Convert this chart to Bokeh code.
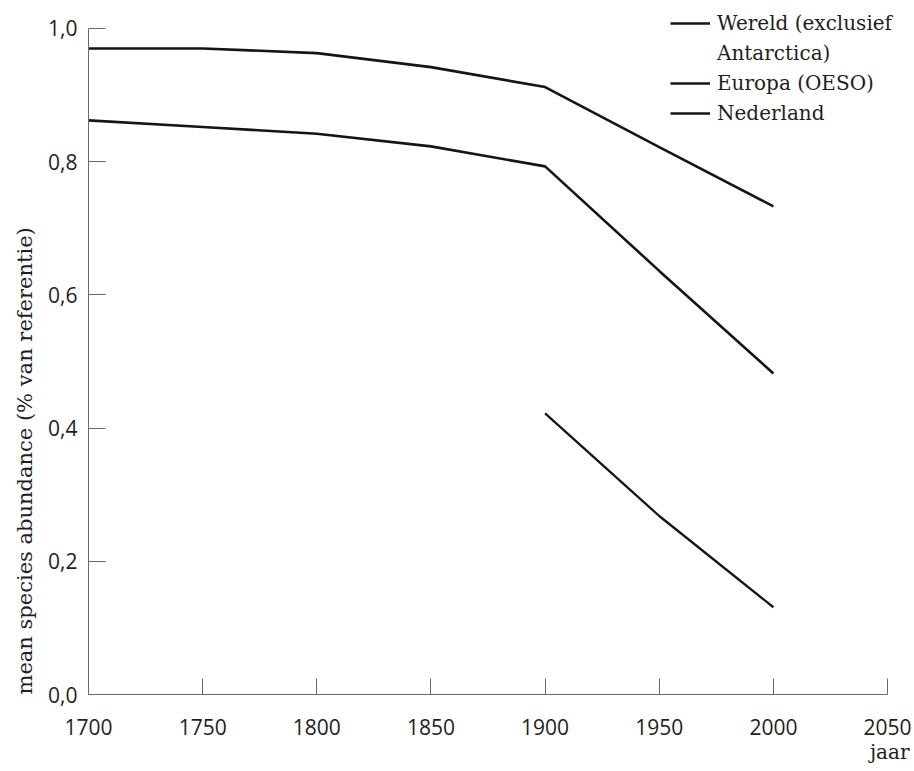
from bokeh.plotting import figure
from bokeh.models import Range1d, FixedTicker, Legend, LegendItem, Title
from bokeh.embed import file_html
from bokeh.resources import INLINE

# ---- data ----
years_world = [1700, 1750, 1800, 1850, 1900, 1950, 2000]
msa_world = [0.97, 0.97, 0.963, 0.942, 0.912, 0.822, 0.733]

years_europe = [1700, 1750, 1800, 1850, 1900, 1950, 2000]
msa_europe = [0.862, 0.852, 0.842, 0.823, 0.793, 0.636, 0.482]

years_nl = [1900, 1950, 2000]
msa_nl = [0.422, 0.268, 0.131]

x_ticks = [1700, 1750, 1800, 1850, 1900, 1950, 2000, 2050]
y_ticks = [0.0, 0.2, 0.4, 0.6, 0.8, 1.0]
y_tick_labels = ["0,0", "0,2", "0,4", "0,6", "0,8", "1,0"]

legend_rows = ["Wereld (exclusief", "Antarctica)", "Europa (OESO)", "Nederland"]
x_title = "jaar"
y_title = "mean species abundance (% van referentie)"

SANS = "Open Sans"
SERIF = "DejaVu Serif"
INK = "#151515"
AXIS = "#6a6a6a"
TXT = "#1e1e1e"

# the frame reaches a little beyond 1.0 / 2050 so the legend (drawn inside the frame)
# can sit in the top-right corner as in the original; axes are bounded to the data span
p = figure(width=914, height=771, output_backend="svg", toolbar_location=None,
           x_range=Range1d(1700, 2061.8), y_range=Range1d(0, 1.033),
           min_border_left=88, min_border_right=0, min_border_top=6, min_border_bottom=77)
p.outline_line_color = None
p.xgrid.visible = False
p.ygrid.visible = False
p.background_fill_color = "white"
p.border_fill_color = "white"

r1 = p.line(years_world, msa_world, line_color=INK, line_width=2.6)
r2 = p.line(years_europe, msa_europe, line_color=INK, line_width=2.6)
r3 = p.line(years_nl, msa_nl, line_color=INK, line_width=2.3)
# invisible renderer for the second line of the first legend label
r_blank = p.line(years_nl, msa_nl, line_alpha=0)

for ax in (p.xaxis, p.yaxis):
    ax.axis_line_color = AXIS
    ax.axis_line_width = 1
    ax.major_tick_line_color = AXIS
    ax.major_tick_line_width = 1
    ax.major_tick_out = 0
    ax.minor_tick_line_color = None
    ax.major_label_text_font = SANS
    ax.major_label_text_font_size = "21px"
    ax.major_label_text_color = TXT

p.xaxis.ticker = FixedTicker(ticks=x_ticks)
p.xaxis.bounds = (1700, 2050)
p.xaxis.major_tick_in = 16
p.xaxis.major_label_standoff = 24

p.yaxis.ticker = FixedTicker(ticks=y_ticks)
p.yaxis.bounds = (0, 1.0)
p.yaxis.major_tick_in = 17
p.yaxis.major_label_standoff = 11
p.yaxis.major_label_overrides = {t: l for t, l in zip(y_ticks, y_tick_labels)}

p.add_layout(Title(text=y_title, align="left", text_font=SERIF, text_font_size="21px",
                   text_font_style="normal", text_color=TXT, standoff=17, offset=0), "left")
p.add_layout(Title(text=x_title, align="right", text_font=SERIF, text_font_size="20px",
                   text_font_style="normal", text_color=TXT, standoff=0, offset=5), "below")

legend = Legend(items=[LegendItem(label=legend_rows[0], renderers=[r1]),
                       LegendItem(label=legend_rows[1], renderers=[r_blank]),
                       LegendItem(label=legend_rows[2], renderers=[r2]),
                       LegendItem(label=legend_rows[3], renderers=[r3])],
                location=(582, 568), glyph_width=40, glyph_height=26, label_height=26,
                label_standoff=7, padding=0, margin=0, spacing=4,
                label_text_font=SERIF, label_text_font_size="20px",
                label_text_color=TXT,
                border_line_alpha=0, background_fill_alpha=0)
p.add_layout(legend)

open("out.html", "w").write(file_html(p, INLINE))
